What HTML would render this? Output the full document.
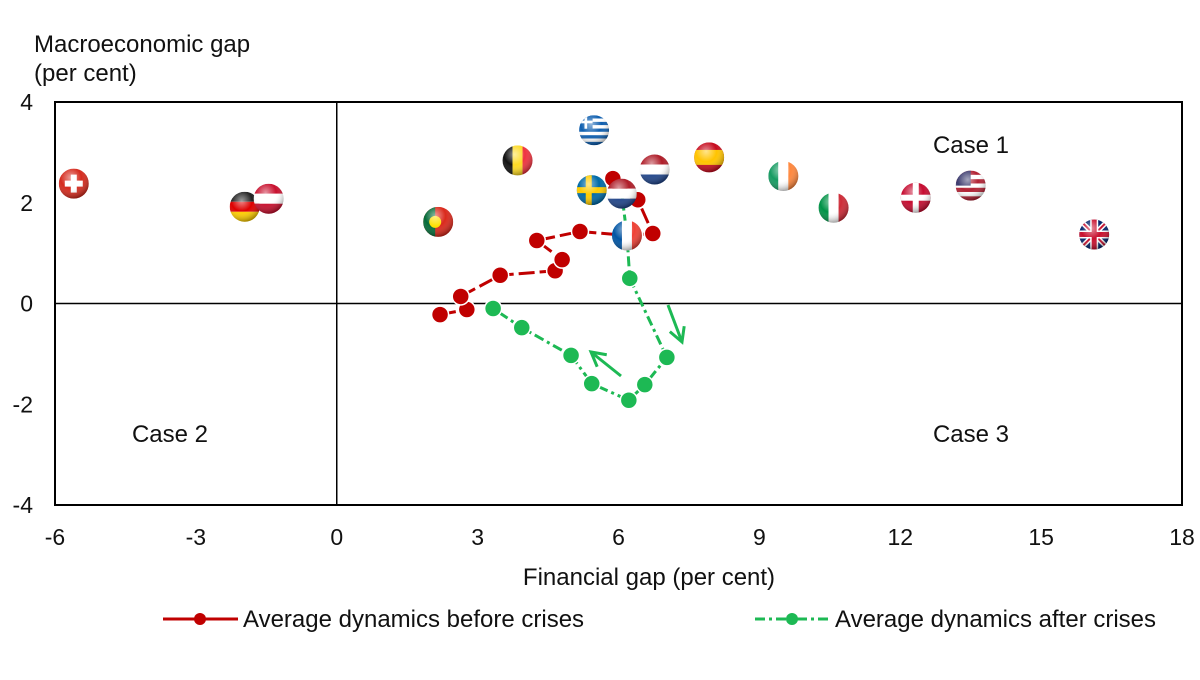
<!DOCTYPE html>
<html><head><meta charset="utf-8"><style>
body{margin:0;background:#fff;width:1200px;height:675px;overflow:hidden;font-family:"Liberation Sans",Arial,sans-serif}
svg text{font-family:"Liberation Sans",Arial,sans-serif;fill:#111}
</style></head><body>
<svg id="c" width="1200" height="675"></svg>
<script>
const xTicks=[-6,-3,0,3,6,9,12,15,18];
const yTicks=[4,2,0,-2,-4];
const beforeX=[2.20,2.77,2.64,3.48,4.65,4.80,4.26,5.18,6.18,6.73,6.41,6.03,5.88];
const beforeY=[-0.22,-0.12,0.14,0.56,0.65,0.87,1.25,1.43,1.35,1.39,2.06,2.24,2.48];
const afterX=[6.07,6.18,6.24,7.03,6.56,6.22,5.43,4.99,3.94,3.33];
const afterY=[2.18,1.35,0.50,-1.07,-1.61,-1.92,-1.59,-1.03,-0.48,-0.10];
const countries=["ch","de","at","pt","be","gr","se","nl","fr","lu","es","ie","it","dk","us","gb"];
const countryX=[-5.6,-1.96,-1.45,2.16,3.85,5.48,5.43,6.07,6.18,6.77,7.93,9.51,10.58,12.33,13.5,16.13];
const countryY=[2.38,1.92,2.08,1.62,2.84,3.44,2.25,2.18,1.35,2.66,2.9,2.53,1.9,2.1,2.34,1.37];

const X0=55,X1=1182,Y0=102,Y1=505;
const sx=v=>X0+(v+6)/24*(X1-X0);
const sy=v=>Y1-(v+4)/8*(Y1-Y0);
const svg=document.getElementById('c');
const NS='http://www.w3.org/2000/svg';
function mk(t,a,p){const e=document.createElementNS(NS,t);for(const k in a)e.setAttribute(k,a[k]);(p||svg).appendChild(e);return e;}

const defs=mk('defs',{});
const g0=mk('radialGradient',{id:'shine',cx:'0.4',cy:'0.3',r:'0.7'},defs);
mk('stop',{offset:'0','stop-color':'#fff','stop-opacity':'0.55'},g0);
mk('stop',{offset:'0.5','stop-color':'#fff','stop-opacity':'0'},g0);
mk('stop',{offset:'1','stop-color':'#000','stop-opacity':'0.35'},g0);

let e=mk('rect',{x:X0,y:Y0,width:X1-X0,height:Y1-Y0,fill:'none',stroke:'#000','stroke-width':2});

e=mk('line',{x1:X0,x2:X1,y1:sy(0),y2:sy(0),stroke:'#000','stroke-width':1.5});

e=mk('line',{x1:sx(0),x2:sx(0),y1:Y0,y2:Y1,stroke:'#000','stroke-width':1.5});


xTicks.forEach(v=>{const t=mk('text',{x:sx(v),y:545,'text-anchor':'middle','font-size':23});t.textContent=v;
});
yTicks.forEach(v=>{const t=mk('text',{x:33,y:sy(v)+8,'text-anchor':'end','font-size':23});t.textContent=v;
});

function txt(s,x,y,name,anchor){const t=mk('text',{x:x,y:y,'font-size':24,'text-anchor':anchor||'start'});t.textContent=s;
}
txt('Macroeconomic gap',34,52,'y-axis-title');
txt('(per cent)',34,81,'y-axis-subtitle');
txt('Financial gap (per cent)',649,585,'x-axis-title','middle');
txt('Case 1',971,153,'case-1-label','middle');
txt('Case 2',170,442,'case-2-label','middle');
txt('Case 3',971,442,'case-3-label','middle');

function flag(code,cx,cy){
  const r=15;const g=mk('g',{});
  
  const id='cl'+code;const cp=mk('clipPath',{id:id},defs);mk('circle',{cx:cx,cy:cy,r:r},cp);
  const in_=mk('g',{'clip-path':'url(#'+id+')'},g);
  const x=cx-r,y=cy-r,w=2*r;
  const R=(xx,yy,ww,hh,f)=>mk('rect',{x:xx,y:yy,width:ww,height:hh,fill:f},in_);
  const h3=(a,b,c)=>{R(x,y,w,w/3,a);R(x,y+w/3,w,w/3,b);R(x,y+2*w/3,w,w/3+1,c);};
  const v3=(a,b,c)=>{R(x,y,w/3,w,a);R(x+w/3,y,w/3,w,b);R(x+2*w/3,y,w/3+1,w,c);};
  switch(code){
    case 'ch':R(x,y,w,w,'#d52b1e');R(cx-3,cy-9,6,18,'#fff');R(cx-9,cy-3,18,6,'#fff');break;
    case 'dk':R(x,y,w,w,'#c60c30');R(cx-3,y,6,w,'#fff');R(x,cy-3,w,6,'#fff');break;
    case 'de':h3('#222','#dd0000','#ffce00');break;
    case 'at':h3('#c8102e','#fff','#c8102e');break;
    case 'nl':case 'lu':h3('#ae1c28','#fff','#21468b');break;
    case 'be':v3('#111','#fdda24','#ef3340');break;
    case 'fr':v3('#0055a4','#fff','#ef4135');break;
    case 'it':v3('#009246','#fff','#ce2b37');break;
    case 'ie':v3('#169b62','#fff','#ff883e');break;
    case 'pt':R(x,y,w,w,'#da291c');R(x,y,w*0.4,w,'#046a38');mk('circle',{cx:x+w*0.4,cy:cy,r:6,fill:'#ffe000'},in_);break;
    case 'es':R(x,y,w,w,'#c60b1e');R(x,y+w/4,w,w/2,'#ffc400');break;
    case 'se':R(x,y,w,w,'#006aa7');R(x+9,y,6,w,'#fecc00');R(x,cy-3,w,6,'#fecc00');break;
    case 'gr':for(let i=0;i<9;i++)R(x,y+i*w/9,w,w/9,i%2?'#fff':'#0d5eaf');R(x,y,w*0.45,w*0.45,'#0d5eaf');R(x+w*0.18,y,w*0.09,w*0.45,'#fff');R(x,y+w*0.18,w*0.45,w*0.09,'#fff');break;
    case 'us':for(let i=0;i<7;i++)R(x,y+i*w/7,w,w/7,i%2?'#fff':'#b22234');R(x,y,w*0.5,w*0.5,'#3c3b6e');break;
    case 'gb':R(x,y,w,w,'#012169');mk('path',{d:`M${x} ${y}L${x+w} ${y+w}M${x+w} ${y}L${x} ${y+w}`,stroke:'#fff','stroke-width':5},in_);
      mk('path',{d:`M${x} ${y}L${x+w} ${y+w}M${x+w} ${y}L${x} ${y+w}`,stroke:'#c8102e','stroke-width':2},in_);
      R(cx-4,y,8,w,'#fff');R(x,cy-4,w,8,'#fff');R(cx-2.5,y,5,w,'#c8102e');R(x,cy-2.5,w,5,'#c8102e');break;
  }
  mk('circle',{cx:cx,cy:cy,r:r,fill:'url(#shine)'},g);
}
countries.forEach((c,i)=>{if(c!=='nl'&&c!=='fr')flag(c,sx(countryX[i]),sy(countryY[i]));});

function series(xs,ys,col,dash,name){
  const pts=xs.map((v,i)=>sx(v)+','+sy(ys[i])).join(' ');
  const pl=mk('polyline',{points:pts,fill:'none',stroke:col,'stroke-width':3,'stroke-dasharray':dash});
  
  xs.forEach((v,i)=>{const c=mk('circle',{cx:sx(v),cy:sy(ys[i]),r:8.5,fill:col,stroke:'#fff','stroke-width':1.5});
    });
}
series(beforeX,beforeY,'#c00000','16 5','before-crises');
series(afterX.slice(2),afterY.slice(2),'#1db954','10 4 3 4','after-crises');
e=mk('polyline',{points:afterX.slice(0,3).map((v,i)=>sx(v)+','+sy(afterY[i])).join(' '),fill:'none',stroke:'#1db954','stroke-width':3,'stroke-dasharray':'10 4 3 4'});

['nl','fr'].forEach(c=>{const i=countries.indexOf(c);flag(c,sx(countryX[i]),sy(countryY[i]));});

function arrow(x1,y1,x2,y2,name){
  const g=mk('g',{stroke:'#1db954','stroke-width':3,fill:'none'});
  
  mk('line',{x1:x1,y1:y1,x2:x2,y2:y2},g);
  const a=Math.atan2(y2-y1,x2-x1),L=16;
  mk('polyline',{points:`${x2-L*Math.cos(a-0.5)},${y2-L*Math.sin(a-0.5)} ${x2},${y2} ${x2-L*Math.cos(a+0.5)},${y2-L*Math.sin(a+0.5)}`},g);
}
arrow(668,305,682,342,'direction-arrow-down');
arrow(621,376,591,352,'direction-arrow-up');

function leg(x,col,dash,label,name){
  const g=mk('g',{});
  mk('line',{x1:x,x2:x+75,y1:619,y2:619,stroke:col,'stroke-width':3,'stroke-dasharray':dash},g);
  mk('circle',{cx:x+37,cy:619,r:6,fill:col},g);
  const t=mk('text',{x:x+80,y:627,'font-size':24},g);t.textContent=label;
}
leg(163,'#c00000','30 0','Average dynamics before crises','legend-before-crises');
leg(755,'#1db954','10 4 3 4','Average dynamics after crises','legend-after-crises');
</script>
</body></html>
